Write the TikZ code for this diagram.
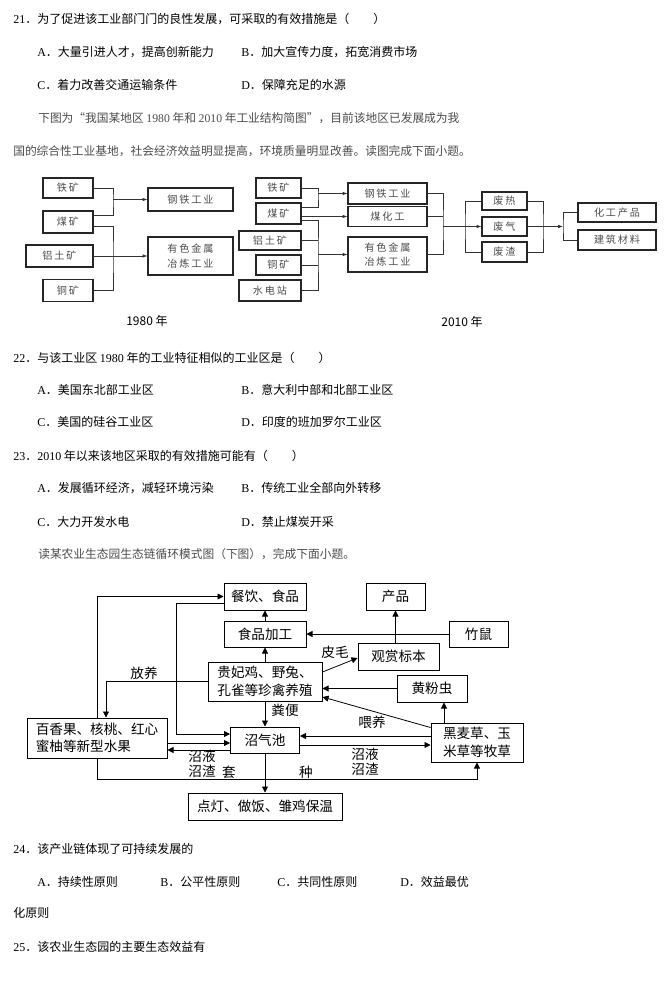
\documentclass[tikz,border=0pt]{standalone}
\usepackage{fontspec}
\setmainfont{Noto Sans CJK SC}
\newfontfamily\lat{Liberation Serif}
\newfontfamily\oref[LetterSpace=18]{Noto Sans CJK SC}
\usetikzlibrary{arrows.meta,calc}

\tikzset{
  qtext/.style={anchor=west, inner sep=0pt, font=\fontsize{9}{11}\selectfont},
  leadtext/.style={anchor=west, inner sep=0pt, text=black!70, font=\fontsize{8.8}{11}\selectfont},
  orebox/.style 2 args={draw=black!85, line width=0.8pt, inner sep=0pt,
    minimum width=#1*0.75pt, minimum height=#2*0.75pt, text=black!70,
    font=\oref\fontsize{7.6}{11}\selectfont, align=left},
  link/.style={draw=black!80, line width=0.5pt},
  linkarr/.style={link, -{Latex[length=3.6pt,width=2.6pt]}},
  farmbox/.style 2 args={draw, line width=0.75pt, inner sep=0pt,
    minimum width=#1*0.75pt, minimum height=#2*0.75pt,
    font=\fontsize{10.2}{13}\selectfont, align=center},
  flow/.style={line width=0.6pt, -{Triangle[length=4.5pt,width=4.5pt]}},
  flowlabel/.style={inner sep=0pt, font=\fontsize{10.2}{11.5}\selectfont, align=left},
}

\begin{document}
\begin{tikzpicture}[x=0.75pt,y=-0.75pt]
	\fill[white] (0,0) rectangle (666,984);
	\useasboundingbox (0,0) rectangle (666,984);

	% question 21
	\node[qtext] (q21) at (13,19) {{\lat 21}．为了促进该工业部门门的良性发展，可采取的有效措施是（　　）};
	\node[qtext] (q21a) at (37,52) {{\lat A}．大量引进人才，提高创新能力};
	\node[qtext] (q21b) at (241,52) {{\lat B}．加大宣传力度，拓宽消费市场};
	\node[qtext] (q21c) at (37,85) {{\lat C}．着力改善交通运输条件};
	\node[qtext] (q21d) at (241,85) {{\lat D}．保障充足的水源};
	\node[leadtext] (lead1) at (38,118) {下图为“我国某地区 {\lat 1980} 年和 {\lat 2010} 年工业结构简图”，目前该地区已发展成为我};
	\node[leadtext] (lead2) at (13,151) {国的综合性工业基地，社会经济效益明显提高，环境质量明显改善。读图完成下面小题。};

	% 1980
	\node[orebox={50}{20}] (oreA1) at (68,188) {铁矿};
	\node[orebox={50}{22}] (oreB1) at (68,222) {煤矿};
	\node[orebox={67}{22}] (oreC1) at (59.5,256) {铝土矿};
	\node[orebox={50}{22}] (oreD1) at (68,290.5) {铜矿};
	\node[orebox={85}{23}] (steel1) at (190.5,199.5) {钢铁工业};
	\node[orebox={85}{38}] (metal1) at (190.5,256) {有色金属\\冶炼工业};
	\coordinate (jst1) at (113,199.5);
	\coordinate (jmt1) at (113,256);
	\draw[link] (oreA1.east) -| (jst1) |- ($(oreB1.east)+(0,-7)$);
	\draw[linkarr] (jst1) -- (steel1.west);
	\draw[link] ($(oreB1.east)+(0,4)$) -| (jmt1) |- (oreD1.east);
	\draw[linkarr] (oreC1.east) -- (metal1.west);
	\node[font=\fontsize{9}{11}\selectfont] (y1980) at (147,321) {1980 年};

	% 2010
	\node[orebox={45}{20}] (oreA2) at (278.5,188) {铁矿};
	\node[orebox={45}{21}] (oreB2) at (278.5,213.5) {煤矿};
	\node[orebox={62}{19}] (oreC2) at (270,240.5) {铝土矿};
	\node[orebox={45}{20}] (oreD2) at (278.5,265) {铜矿};
	\node[orebox={62}{21}] (hydro) at (270,290.5) {水电站};
	\node[orebox={79}{21}] (steel2) at (387.5,193.5) {钢铁工业};
	\node[orebox={79}{20}] (coalchem) at (387.5,216.5) {煤化工};
	\node[orebox={79}{35}] (metal2) at (387.5,254.5) {有色金属\\冶炼工业};
	\node[orebox={45}{18}] (heat) at (504.5,201) {废热};
	\node[orebox={45}{19}] (gas) at (504.5,226.5) {废气};
	\node[orebox={45}{20}] (slag) at (504.5,252) {废渣};
	\node[orebox={78}{19}] (chem) at (617,212.5) {化工产品};
	\node[orebox={78}{20}] (build) at (617,240) {建筑材料};
	\coordinate (jst2) at (318,193.5);
	\coordinate (jmt2) at (318,254.5);
	\coordinate (jw) at (443,226.5);
	\coordinate (jwl) at (465,226.5);
	\coordinate (jwr) at (543,226.5);
	\coordinate (jp) at (563,226.5);
	\draw[link] (oreA2.east) -| (jst2) |- ($(oreB2.east)+(0,-6)$);
	\draw[linkarr] (jst2) -- (steel2.west);
	\draw[linkarr] (oreB2.east |- coalchem.west) -- (coalchem.west);
	\draw[link] ($(oreB2.east)+(0,6.5)$) -| (jmt2) |- (hydro.east);
	\draw[link] (oreC2.east) -- (oreC2.east -| jmt2);
	\draw[link] (oreD2.east) -- (oreD2.east -| jmt2);
	\draw[linkarr] (jmt2) -- (metal2.west);
	\draw[link] (steel2.east) -| (jw) |- (metal2.east);
	\draw[link] (coalchem.east) -- (coalchem.east -| jw);
	\draw[linkarr] (jw) -- (gas.west);
	\draw[link] (heat.west) -| (jwl) |- (slag.west);
	\draw[link] (heat.east) -| (jwr) |- (slag.east);
	\draw[linkarr] (gas.east) -- (jp);
	\draw[link] (chem.west) -| (jp) |- (build.west);
	\node[font=\fontsize{9}{11}\selectfont] (y2010) at (462,322) {2010 年};

	% questions 22, 23
	\node[qtext] (q22) at (13,358) {{\lat 22}．与该工业区 {\lat 1980} 年的工业特征相似的工业区是（　　）};
	\node[qtext] (q22a) at (37,390) {{\lat A}．美国东北部工业区};
	\node[qtext] (q22b) at (241,390) {{\lat B}．意大利中部和北部工业区};
	\node[qtext] (q22c) at (37,422) {{\lat C}．美国的硅谷工业区};
	\node[qtext] (q22d) at (241,422) {{\lat D}．印度的班加罗尔工业区};
	\node[qtext] (q23) at (13,456) {{\lat 23}．{\lat 2010} 年以来该地区采取的有效措施可能有（　　）};
	\node[qtext] (q23a) at (37,488) {{\lat A}．发展循环经济，减轻环境污染};
	\node[qtext] (q23b) at (241,488) {{\lat B}．传统工业全部向外转移};
	\node[qtext] (q23c) at (37,522) {{\lat C}．大力开发水电};
	\node[qtext] (q23d) at (241,522) {{\lat D}．禁止煤炭开采};
	\node[leadtext] (lead3) at (38,554) {读某农业生态园生态链循环模式图（下图），完成下面小题。};

	% farm chain
	\node[farmbox={82}{27}] (food) at (265,596.5) {餐饮、食品};
	\node[farmbox={82}{26}] (proc) at (265,634) {食品加工};
	\node[farmbox={114}{39}] (fowl) at (265,681.5) {贵妃鸡、野兔、\\孔雀等珍禽养殖};
	\node[farmbox={59}{27}] (prod) at (395.5,596.5) {产品};
	\node[farmbox={59}{26}] (rat) at (478.5,634) {竹鼠};
	\node[farmbox={81}{27}] (spec) at (398.5,656.5) {观赏标本};
	\node[farmbox={70}{27}] (worm) at (432,688.5) {黄粉虫};
	\node[farmbox={140}{40}, align=left] (fruit) at (97,738) {百香果、核桃、红心\\蜜柚等新型水果};
	\node[farmbox={69}{26}] (pool) at (265,740) {沼气池};
	\node[farmbox={92}{39}] (grass) at (477,742.5) {黑麦草、玉\\米草等牧草};
	\node[farmbox={154}{27}] (lamp) at (265,806.5) {点灯、做饭、雏鸡保温};
	\coordinate (wormfoot) at ($(worm.south)+(12,0)$);
	\coordinate (rowline) at (0,779);
	\draw[flow] (proc.north) -- (food.south);
	\draw[flow] (fowl.north) -- (proc.south);
	\draw[flow] (rat.west) -- (proc.east);
	\draw[flow] (spec.north -| prod.south) -- (prod.south);
	\draw[flow] ($(fowl.east)+(0,-9.5)$) -- ($(spec.west)+(0,1.5)$);
	\draw[flow] (worm.west) -- (worm.west -| fowl.east);
	\draw[flow] (wormfoot |- grass.north) -- (wormfoot);
	\draw[flow] ($(grass.north west)+(0,5)$) -- ($(fowl.east)+(0,15.5)$);
	\draw[flow] (fowl.south) -- (pool.north);
	\draw[flow] ($(grass.west)+(0,-6.5)$) -- ($(pool.east)+(0,-4)$);
	\draw[flow] ($(pool.east)+(0,5)$) -- ($(grass.west)+(0,2.5)$);
	\draw[flow] ($(pool.west)+(0,10)$) -- ($(fruit.east)+(0,12)$);
	\draw[flow] ($(fruit.east)+(0,5)$) -- ($(pool.west)+(0,3)$);
	\draw[flow] ($(food.west)+(0,6.5)$) -| ($(pool.west)+(-54,-6)$) -- ($(pool.west)+(0,-6)$);
	\draw[flow] (fruit.north) |- (food.west);
	\draw[flow] (fowl.west) -| ($(fruit.north)+(9,0)$);
	\draw[flow] (fruit.south) |- (rowline -| grass.south) -- (grass.south);
	\draw[flow] (pool.south) -- (lamp.north);
	\node[flowlabel] (lblfree) at (144,673) {放养};
	\node[flowlabel] (lblfur) at (335,652) {皮毛};
	\node[flowlabel] (lbldung) at (285,710) {粪便};
	\node[flowlabel] (lblfeed) at (372,722) {喂养};
	\node[flowlabel] (lblslurryR) at (365,762) {沼液\\沼渣};
	\node[flowlabel] (lblslurryL) at (202,763.5) {沼液\\沼渣};
	\node[flowlabel] (lbltao) at (229,772) {套};
	\node[flowlabel] (lblzhong) at (306,772) {种};

	% questions 24, 25
	\node[qtext] (q24) at (13,849) {{\lat 24}．该产业链体现了可持续发展的};
	\node[qtext] (q24a) at (37,882) {{\lat A}．持续性原则};
	\node[qtext] (q24b) at (160,882) {{\lat B}．公平性原则};
	\node[qtext] (q24c) at (277,882) {{\lat C}．共同性原则};
	\node[qtext] (q24d) at (400,882) {{\lat D}．效益最优};
	\node[qtext] (q24e) at (13,913) {化原则};
	\node[qtext] (q25) at (13,947) {{\lat 25}．该农业生态园的主要生态效益有};
\end{tikzpicture}
\end{document}
